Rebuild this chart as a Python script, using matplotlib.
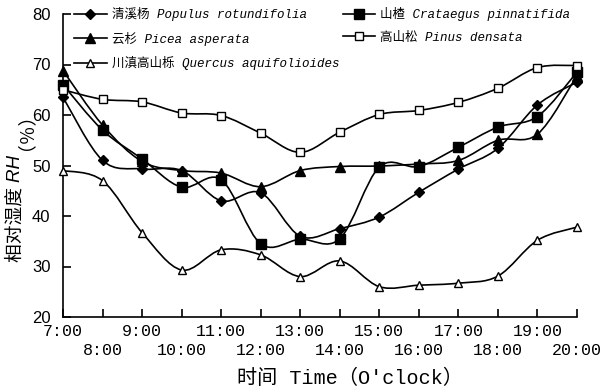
import numpy as np
import matplotlib
matplotlib.use("Agg")
import matplotlib.pyplot as plt
from matplotlib.path import Path
from matplotlib.patches import PathPatch
from matplotlib.lines import Line2D

# hours of the day and measured relative humidity (%)
hours = [7, 8, 9, 10, 11, 12, 13, 14, 15, 16, 17, 18, 19, 20]
hour_labels = ["%d:00" % h for h in hours]

populus = [63.5, 51.0, 49.3, 49.0, 43.0, 44.6, 36.0, 37.5, 39.8, 44.7, 49.3, 53.4, 62.0, 66.5]
crataegus = [66.0, 57.0, 51.3, 45.7, 47.2, 34.5, 35.4, 35.5, 49.7, 49.8, 53.6, 57.6, 59.7, 68.5]
picea = [68.8, 58.0, 50.8, 49.0, 48.5, 45.8, 49.0, 49.8, 49.9, 50.3, 51.0, 55.0, 56.2, 67.8]
pinus = [65.0, 63.1, 62.6, 60.4, 59.9, 56.4, 52.6, 56.6, 60.1, 60.9, 62.5, 65.3, 69.4, 69.8]
quercus = [49.0, 47.0, 36.7, 29.3, 33.3, 32.3, 28.0, 31.1, 26.0, 26.3, 26.7, 28.1, 35.2, 37.8]

names = ["清溪杨 Populus rotundifolia", "山楂 Crataegus pinnatifida",
         "云杉 Picea asperata", "高山松 Pinus densata",
         "川滇高山栎 Quercus aquifolioides"]

plt.rcParams['font.family'] = ['Liberation Mono', 'Noto Sans CJK SC']


def smooth_path(x, y):
    # catmull-rom style bezier through the points (like excel smoothed lines)
    n = len(x)
    verts = [(x[0], y[0])]
    codes = [Path.MOVETO]
    for i in range(n - 1):
        a = i - 1 if i > 0 else i
        d = i + 2 if i + 2 < n else i + 1
        c1 = (x[i] + (x[i + 1] - x[a]) / 6.0, y[i] + (y[i + 1] - y[a]) / 6.0)
        c2 = (x[i + 1] - (x[d] - x[i]) / 6.0, y[i + 1] - (y[d] - y[i]) / 6.0)
        verts += [c1, c2, (x[i + 1], y[i + 1])]
        codes += [Path.CURVE4] * 3
    return Path(verts, codes)


W, H = 605, 392
fig = plt.figure(figsize=(W / 100, H / 100), dpi=100)
ax = fig.add_axes([63 / W, 1 - 317 / H, (577 - 63) / W, (317 - 14) / H])

series = [
    (populus, 'D', 'black', 5.5),
    (crataegus, 's', 'black', 6.5),
    (picea, '^', 'black', 6.5),
    (pinus, 's', 'white', 6),
    (quercus, '^', 'white', 6),
]

handles = []
for (vals, mk, fc, ms), name in zip(series, names):
    patch = PathPatch(smooth_path(hours, vals), fill=False, edgecolor='black',
                      lw=1.2, clip_on=False, zorder=2)
    ax.add_patch(patch)
    ax.plot(hours, vals, linestyle='none', marker=mk, markersize=ms,
            markerfacecolor=fc, markeredgecolor='black', markeredgewidth=1.0,
            clip_on=False, zorder=3)
    handles.append(Line2D([], [], color='black', lw=1.2, marker=mk, markersize=ms,
                          markerfacecolor=fc, markeredgecolor='black',
                          markeredgewidth=1.0, label=name))

ax.set_xlim(7, 20)
ax.set_ylim(20, 80)
ax.spines['top'].set_visible(False)
ax.spines['right'].set_visible(False)
for s in ['left', 'bottom']:
    ax.spines[s].set_linewidth(1.2)

# odd hours on first row, even hours on second row
ax.set_xticks(hours[::2])
ax.set_xticklabels(hour_labels[::2])
ax.set_xticks(hours[1::2], minor=True)
ax.set_xticklabels(hour_labels[1::2], minor=True)
ax.tick_params(axis='x', which='major', direction='in', length=6, width=1.2,
               pad=5, labelsize=12)
ax.tick_params(axis='x', which='minor', direction='in', length=6, width=1.2,
               pad=19, labelsize=12)
ax.set_yticks([20, 30, 40, 50, 60, 70, 80])
ax.tick_params(axis='y', direction='in', length=6, width=1.2, pad=9, labelsize=12)
for lab in ax.get_yticklabels():
    lab.set_fontfamily('Liberation Sans')

order = [0, 2, 4, 1, 3]
leg = ax.legend([handles[i] for i in order], [names[i] for i in order],
                ncol=2, loc='upper left', bbox_to_anchor=(0.012, 1.04),
                frameon=False, handlelength=2.6, handletextpad=0.4,
                columnspacing=0.3, labelspacing=0.85, borderaxespad=0,
                prop={'family': ['Liberation Mono', 'Noto Sans CJK SC'],
                      'style': 'italic', 'size': 9})

# y label built from pieces so RH can be italic (stacked bottom to top)
renderer = fig.canvas.get_renderer()
ypix = H - 262
pieces = [("相对湿度 ", 'normal'), ("RH ", 'italic'), ("（％）", 'normal')]
for txt, st in pieces:
    t = fig.text(16 / W, ypix / H, txt, rotation=90, ha='center', va='bottom',
                 fontsize=13.5, style=st,
                 family=['Liberation Sans', 'Noto Sans CJK SC'])
    bb = t.get_window_extent(renderer)
    ypix += bb.height

fig.text(350 / W, 1 - 378 / H, "时间 Time（O'clock）", ha='center', va='center',
         fontsize=14.5, family=['Liberation Mono', 'Noto Sans CJK SC'])

fig.savefig("out.png", dpi=100)
